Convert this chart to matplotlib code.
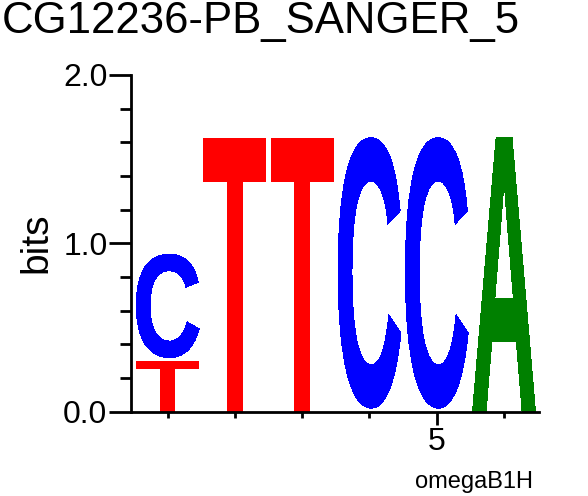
import matplotlib
matplotlib.use('Agg')
import matplotlib.pyplot as plt
from matplotlib.textpath import TextPath
from matplotlib.patches import PathPatch
from matplotlib.font_manager import FontProperties
from matplotlib.transforms import Affine2D

# Data: letters stacked bottom -> top per position, with their heights in bits
positions = [1, 2, 3, 4, 5, 6]
col_letters = [['T', 'C'], ['T'], ['T'], ['C'], ['C'], ['A']]
col_bits = [[0.30, 0.635], [1.627], [1.627], [1.627], [1.627], [1.627]]
colors = {'A': '#008000', 'C': '#0000ff', 'G': '#ffa500', 'T': '#ff0000'}
title = 'CG12236-PB_SANGER_5'
xlabel = 'omegaB1H'

plt.rcParams['font.family'] = ['Liberation Sans', 'DejaVu Sans']
glyph_font = FontProperties(family='Liberation Sans', weight='bold')

fig = plt.figure(figsize=(5.88, 4.96), dpi=100)
ax = fig.add_axes([131/588, 1 - 411.5/496, 408/588, 336.5/496])


def draw_letter(ax, ch, x, y0, w, h, color):
    tp = TextPath((0, 0), ch, size=1, prop=glyph_font)
    bb = tp.get_extents()
    # C glyph sits a little above its slot
    inset = 0.02 if ch == 'C' else 0.0
    h2 = h - inset
    t = (Affine2D().translate(-bb.x0, -bb.y0)
         .scale(w / bb.width, h2 / bb.height)
         .translate(x - w / 2, y0 + inset))
    ax.add_patch(PathPatch(t.transform_path(tp), facecolor=color, lw=0,
                           antialiased=False))


for pos, lets, bits in zip(positions, col_letters, col_bits):
    y = 0.0
    for ch, b in zip(lets, bits):
        draw_letter(ax, ch, pos, y, 0.935, b, colors[ch])
        y += b

ax.set_xlim(0.455, 6.52)
ax.set_ylim(0, 2.0)

for s in ['top', 'right']:
    ax.spines[s].set_visible(False)
for s in ['left', 'bottom']:
    ax.spines[s].set_linewidth(2.0)

ax.set_yticks([0, 1, 2])
ax.set_yticklabels(['0.0', '1.0', '2.0'])
ax.set_yticks([0.2, 0.4, 0.6, 0.8, 1.2, 1.4, 1.6, 1.8], minor=True)
ax.tick_params(axis='y', which='major', length=16, width=2.0, labelsize=23, pad=1)
ax.tick_params(axis='y', which='minor', length=8, width=2.0)

ax.set_xticks([5])
ax.set_xticklabels(['5'])
ax.set_xticks([1, 2, 3, 4, 6], minor=True)
ax.tick_params(axis='x', which='major', length=9, width=2.0, labelsize=23, pad=2)
ax.tick_params(axis='x', which='minor', length=4.5, width=2.0)

fig.text(36/588, 1 - 243/496, 'bits', rotation=90, ha='center', va='center',
         fontsize=28)
fig.text(2/588, 1 - 33.3/496, title, ha='left', va='baseline', fontsize=31.5)
fig.text(474.5/588, 1 - 488/496, xlabel, ha='center', va='baseline', fontsize=17)

fig.savefig('out.png', dpi=100)
